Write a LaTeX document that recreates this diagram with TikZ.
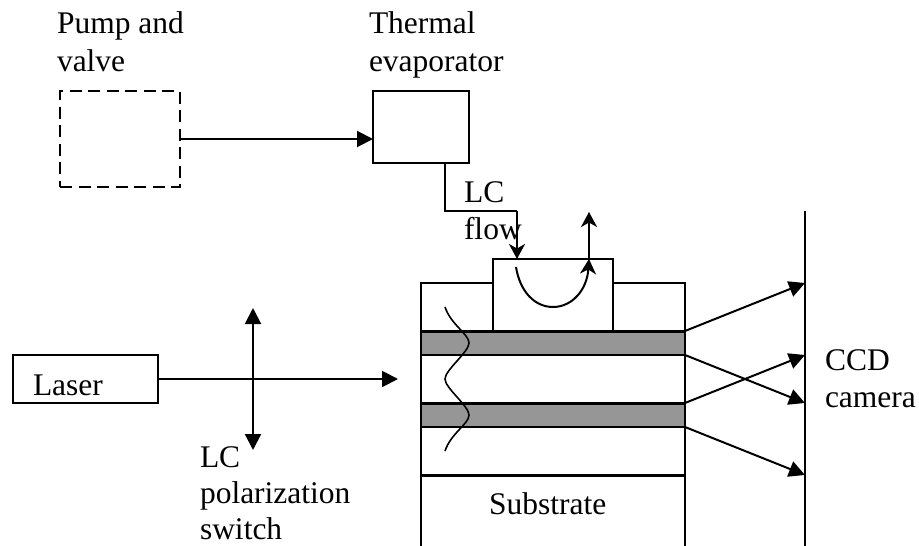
\documentclass[tikz,border=0pt]{standalone}
\usepackage{fontspec}
\setmainfont{Liberation Serif}
\usetikzlibrary{arrows.meta}
\tikzset{
  x=1pt,y=-1pt,
  lbl/.style={anchor=base west,inner sep=0pt,outer sep=0pt,font=\fontsize{31.5}{36}\selectfont},
  boxn/.style={draw,line width=2pt,anchor=north west,inner sep=0pt,outer sep=0pt,fill=white},
  dashbox/.style={boxn,dash pattern=on 12pt off 6.5pt},
  band/.style={boxn,fill=black!41,line width=1.8pt},
  ln/.style={line width=2pt},
  tri/.style={ln,-{Triangle[length=16pt,width=16pt]}},
  st/.style={ln,-{Stealth[length=15pt,width=16pt,inset=4.5pt]}},
  heavy/.style={line width=3pt},
}
\begin{document}
\begin{tikzpicture}
\useasboundingbox (0,0) rectangle (919,546);
% outer stack
\node[boxn,minimum width=264pt,minimum height=48pt] (top) at (421,283) {};
\node[boxn,minimum width=120pt,minimum height=72pt] (block) at (493,259) {};
\node[band,minimum width=264pt,minimum height=24pt] (b1) at (421,331) {};
\node[band,minimum width=264pt,minimum height=24pt] (b2) at (421,403) {};
\coordinate (la) at (421,355);
\coordinate (lb) at (421,546);
\coordinate (ra) at (685,355);
\coordinate (rb) at (685,546);
\draw[ln] (la) -- (lb) (ra) -- (rb);
\draw[heavy] (b1.north west) -- (b1.north east);
\draw[heavy] (b2.north west) -- (b2.north east);
\coordinate (sl) at (421,475);
\coordinate (sr) at (685,475);
\draw[heavy] (sl) -- (sr);
% boxes
\node[dashbox,minimum width=120pt,minimum height=96pt] (pump) at (60,91) {};
\node[boxn,minimum width=96pt,minimum height=72pt] (therm) at (373,91) {};
\node[boxn,minimum width=145pt,minimum height=48pt] (laser) at (13,355) {};
% labels
\node[lbl] (t1) at (57,33) {Pump and};
\node[lbl] (t2) at (57,71) {valve};
\node[lbl] (t3) at (369,33) {Thermal};
\node[lbl] (t4) at (369,71) {evaporator};
\node[lbl] (t5) at (464,202) {LC};
\node[lbl] (t6) at (464,239) {flow};
\node[lbl] (t7) at (489,514) {Substrate};
\node[lbl] (t8) at (33,395) {Laser};
\node[lbl] (t9) at (200,467) {LC};
\node[lbl] (t10) at (200,503) {polarization};
\node[lbl] (t11) at (200,539.5) {switch};
\node[lbl] (t12) at (825,370) {CCD};
\node[lbl] (t13) at (825,407) {camera};
% connectors
\draw[tri] (pump.east |- 0,139) -- (therm.west |- 0,139);
\coordinate (e1) at (445,211);
\coordinate (e2) at (517,211);
\coordinate (e0) at (445,163);
\draw[line width=2.6pt] (e0) -- (e1) -- (e2);
\draw[st] (e2) -- (block.north -| e2);
\coordinate (c1) at (516,267);
\coordinate (c2) at (589,259);
\coordinate (c3) at (589,212);
\draw[st] (c1) .. controls (520,292) and (535,307) .. (553,307) .. controls (572,307) and (587,290) .. (c2);
\draw[st] (c2) -- (c3);
% laser
\coordinate (a1) at (398,379);
\draw[tri] (laser.east) -- (a1);
\coordinate (s1) at (253,308);
\coordinate (s2) at (253,450);
\draw[ln,{Triangle[length=16pt,width=16pt]}-{Triangle[length=16pt,width=16pt]}] (s1) -- (s2);
% wave
\coordinate (w0) at (445,307);
\coordinate (w1) at (469,343);
\coordinate (w2) at (445,379);
\coordinate (w3) at (469,415);
\coordinate (w4) at (445,451);
\draw[line width=1.6pt] (w0) .. controls (451,325) and (469,334) .. (w1)
  .. controls (469,352) and (445,370) .. (w2)
  .. controls (445,388) and (469,406) .. (w3)
  .. controls (469,424) and (451,433) .. (w4);
% camera
\coordinate (v0) at (805,211);
\coordinate (v1) at (805,546);
\draw[ln] (v0) -- (v1);
\draw[tri] (b1.north east) -- (v0 |- 0,283);
\draw[tri] (b1.south east) -- (v0 |- 0,403);
\draw[tri] (b2.north east) -- (v0 |- 0,355);
\draw[tri] (b2.south east) -- (v0 |- 0,475);
\end{tikzpicture}
\end{document}
